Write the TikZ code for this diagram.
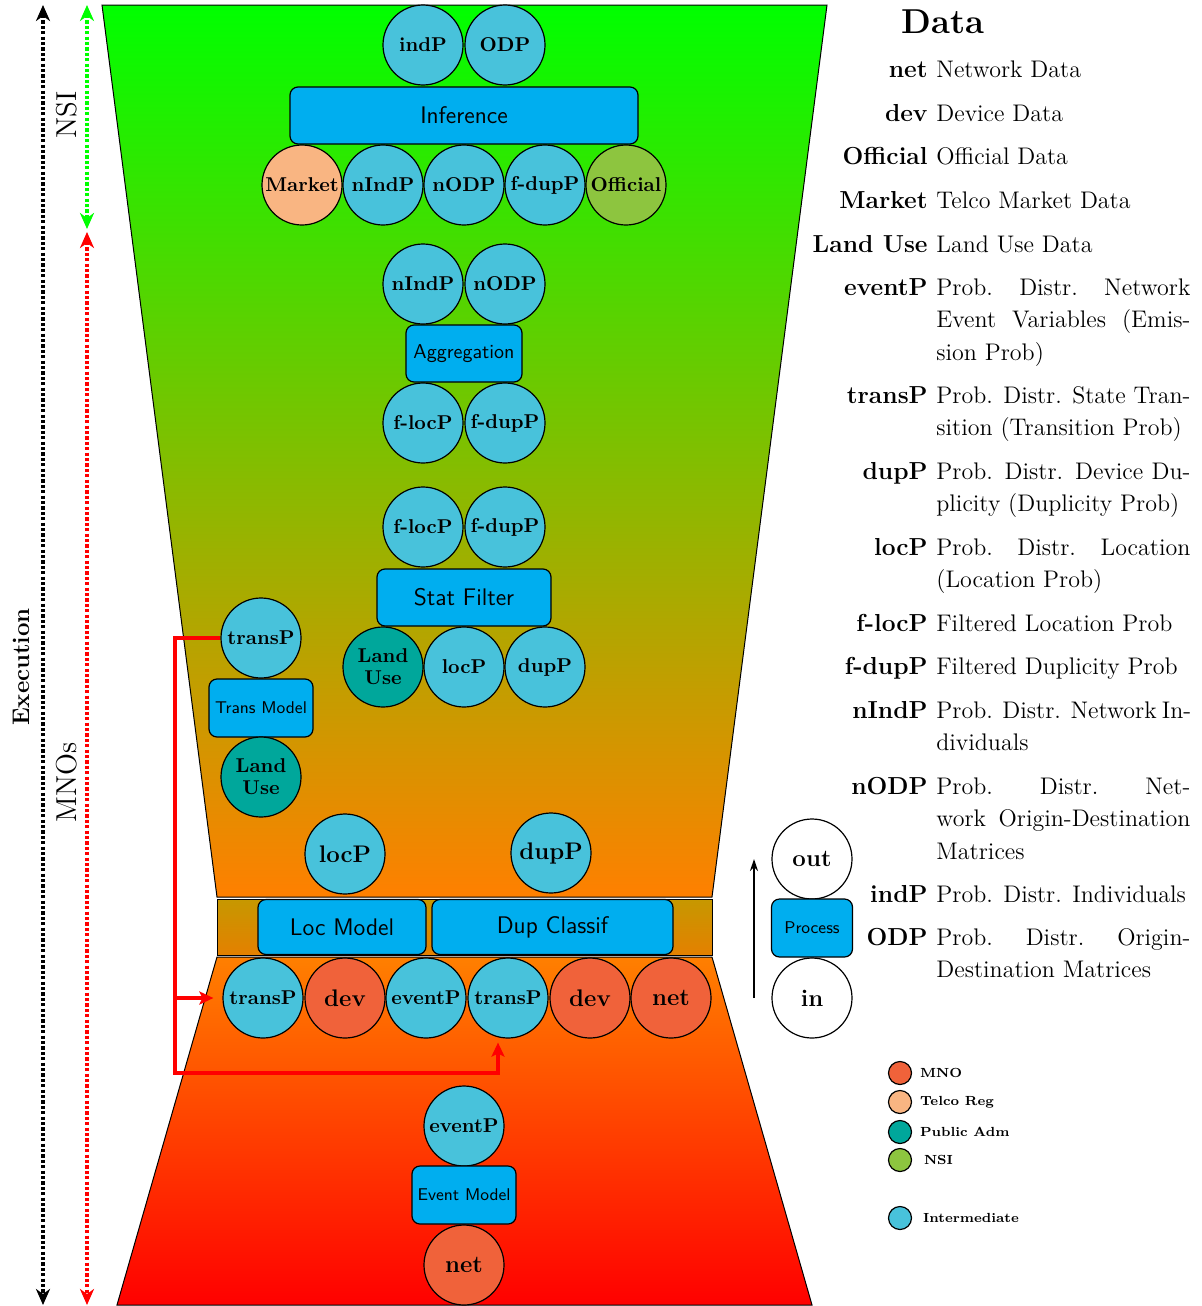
\documentclass[tikz,border=0pt]{standalone}
\usepackage{fontspec}
\usetikzlibrary{arrows.meta}

\definecolor{interc}{RGB}{72,194,219}
\definecolor{mnoc}{RGB}{240,98,58}
\definecolor{telcoc}{RGB}{249,181,130}
\definecolor{pubc}{RGB}{0,167,155}
\definecolor{nsic}{RGB}{141,197,63}
\definecolor{boxc}{RGB}{0,174,239}
\definecolor{bandtop}{RGB}{198,152,0}
\definecolor{bandbot}{RGB}{228,128,0}

\newcommand{\jline}[1]{\makebox[127pt][s]{#1}}

\tikzset{
  blob/.style={circle, draw, line width=0.6pt, minimum size=40pt, inner sep=0pt,
    align=center, font=\fontsize{10}{11}\selectfont\bfseries},
  inter/.style={blob, fill=interc},
  mno/.style={blob, fill=mnoc},
  telco/.style={blob, fill=telcoc},
  pub/.style={blob, fill=pubc},
  nsi/.style={blob, fill=nsic},
  plain/.style={blob, fill=white},
  bigl/.style={font=\fontsize{12}{13}\selectfont\bfseries},
  proc/.style={draw, line width=0.6pt, rounded corners=4pt, fill=boxc, inner sep=0pt,
    minimum height=28.5pt, font=\sffamily\fontsize{12}{14}\selectfont},
  sproc/.style={proc, font=\sffamily\fontsize{8.5}{10}\selectfont},
  mproc/.style={proc, font=\sffamily\fontsize{10}{12}\selectfont},
  dotline/.style={line width=2pt, dash pattern=on 1.6pt off 1.1pt,
    {Stealth[length=8pt,width=7pt,inset=2.5pt]}-{Stealth[length=8pt,width=7pt,inset=2.5pt]}},
  redwire/.style={red, line width=1.8pt, -{Stealth[length=7pt,width=6.5pt,inset=1.5pt]}},
  key/.style={anchor=base east, inner sep=0pt, font=\fontsize{12.3}{16.25}\selectfont\bfseries},
  desc/.style={anchor=base west, inner sep=0pt, text width=127pt, align=justify,
    font=\fontsize{12}{16.25}\selectfont},
  legc/.style={circle, draw, line width=0.6pt, minimum size=11.5pt, inner sep=0pt},
  legl/.style={anchor=west, inner sep=0pt, font=\fontsize{6.6}{8}\selectfont\bfseries},
}

\begin{document}
\begin{tikzpicture}[x=0.5pt,y=-0.5pt]
\useasboundingbox (0,0) rectangle (1202,1306);

% funnel: upper part, middle band, lower part
\path[draw, line width=0.5pt, top color=green, bottom color=orange]
  (102,5) -- (827,5) -- (712,897) -- (217,897) -- cycle;
\path[draw, line width=0.5pt, top color=bandtop, bottom color=bandbot]
  (217,899) rectangle (712,955);
\path[draw, line width=0.5pt, top color=orange, bottom color=red]
  (217,957) -- (712,957) -- (812,1305) -- (117,1305) -- cycle;

% execution scopes on the left
\coordinate (exTop) at (43,5);
\coordinate (exBot) at (43,1305);
\coordinate (nsiTop) at (87,5);
\coordinate (nsiBot) at (87,229);
\coordinate (mnoTop) at (87,232);
\coordinate (mnoBot) at (87,1305);
\draw[dotline, black] (exTop) -- (exBot);
\draw[dotline, green] (nsiTop) -- (nsiBot);
\draw[dotline, red] (mnoTop) -- (mnoBot);
\node[rotate=90, font=\fontsize{12}{14}\selectfont\bfseries] (lblExec) at (21,667) {Execution};
\node[rotate=90, font=\fontsize{14.4}{16}\selectfont] (lblNsi) at (67,115) {NSI};
\node[rotate=90, font=\fontsize{14.4}{16}\selectfont] (lblMno) at (67,782) {MNOs};

% inference stage
\node[inter] (indP) at (423,45) {indP};
\node[inter] (odP) at (505,45) {ODP};
\node[proc, minimum width=174pt] (inference) at (464,115.5) {Inference};
\node[telco] (market) at (302,185) {Market};
\node[inter] (nindA) at (383,185) {nIndP};
\node[inter] (nodA) at (464,185) {nODP};
\node[inter] (fdupA) at (545,185) {f-dupP};
\node[nsi] (official) at (626,185) {Official};

% aggregation stage
\node[inter] (nindB) at (423,284) {nIndP};
\node[inter] (nodB) at (505,284) {nODP};
\node[mproc, minimum width=58pt] (aggregation) at (464,353.5) {Aggregation};
\node[inter] (flocA) at (423,423) {f-locP};
\node[inter] (fdupB) at (505,423) {f-dupP};

% statistical filter stage
\node[inter] (flocB) at (423,527) {f-locP};
\node[inter] (fdupC) at (505,527) {f-dupP};
\node[proc, minimum width=87pt] (statfilter) at (464,597.5) {Stat Filter};
\node[pub] (landA) at (383,667) {Land\\Use};
\node[inter] (locA) at (464,667) {locP};
\node[inter] (dupA) at (545,667) {dupP};

% transition model
\node[inter] (transTop) at (261,638) {transP};
\node[sproc, minimum width=52pt, minimum height=29pt] (transmodel) at (261,708) {Trans Model};
\node[pub] (landB) at (261,777) {Land\\Use};

% location / duplicity models
\node[inter, bigl] (locB) at (345,854) {locP};
\node[inter, bigl] (dupB) at (551,853) {dupP};
\node[proc, minimum width=84pt, minimum height=27.5pt] (locmodel) at (342,927) {Loc Model};
\node[proc, minimum width=120.5pt, minimum height=27.5pt] (dupclassif) at (552.5,927) {Dup Classif};
\node[inter] (transLow) at (263,998) {transP};
\node[mno, bigl] (devA) at (345,998) {dev};
\node[inter] (eventA) at (426,998) {eventP};
\node[inter] (transMid) at (508,998) {transP};
\node[mno, bigl] (devB) at (590,998) {dev};
\node[mno, bigl] (netA) at (671,998) {net};

% event model
\node[inter] (eventB) at (464,1126) {eventP};
\node[sproc, minimum width=52pt, minimum height=29pt] (eventmodel) at (464,1195) {Event Model};
\node[mno, bigl] (netB) at (464,1265) {net};

% transition probabilities fed back into the models
\coordinate (rk) at (175,1073);
\draw[redwire, shorten >=2pt] (transTop.west) -| (rk) -| ([xshift=-5pt]transMid.south);
\draw[redwire, shorten >=4.5pt] (transTop.west -| rk) |- (transLow.west);

% key to the boxes
\node[plain, bigl] (outC) at (812,859) {out};
\node[sproc, minimum width=40.5pt, minimum height=29pt] (procbox) at (812,928) {Process};
\node[plain, bigl] (inC) at (812,998) {in};
\draw[line width=1pt, -{Stealth[length=6pt,width=4pt]}]
  ([xshift=-29pt]inC.center) -- ([xshift=-29pt]outC.center);

% data glossary
\node[font=\fontsize{17.28}{20}\selectfont\bfseries] (dataTitle) at (943,22) {Data};
\node[key] (kNet) at (928,77) {net};
\node[desc] (dNet) at (936,77) {Network Data};
\node[key] (kDev) at (928,121) {dev};
\node[desc] (dDev) at (936,121) {Device Data};
\node[key] (kOff) at (928,164) {Official};
\node[desc] (dOff) at (936,164) {Official Data};
\node[key] (kMkt) at (928,208) {Market};
\node[desc] (dMkt) at (936,208) {Telco Market Data};
\node[key] (kLand) at (928,252) {Land Use};
\node[desc] (dLand) at (936,252) {Land Use Data};
\node[key] (kEvent) at (928,295) {eventP};
\node[desc] (dEvent) at (936,295) {\jline{Prob. Distr. Network}\\\jline{Event Variables (Emis-}\\sion Prob)};
\node[key] (kTrans) at (928,403) {transP};
\node[desc] (dTrans) at (936,403) {\jline{Prob. Distr. State Tran-}\\sition (Transition Prob)};
\node[key] (kDup) at (928,479) {dupP};
\node[desc] (dDup) at (936,479) {\jline{Prob. Distr. Device Du-}\\plicity (Duplicity Prob)};
\node[key] (kLoc) at (928,555) {locP};
\node[desc] (dLoc) at (936,555) {\jline{Prob. Distr. Location}\\(Location Prob)};
\node[key] (kFloc) at (928,631) {f-locP};
\node[desc] (dFloc) at (936,631) {Filtered Location Prob};
\node[key] (kFdup) at (928,674) {f-dupP};
\node[desc] (dFdup) at (936,674) {Filtered Duplicity Prob};
\node[key] (kNind) at (928,718) {nIndP};
\node[desc] (dNind) at (936,718) {\jline{Prob. Distr. Network In-}\\dividuals};
\node[key] (kNod) at (928,794) {nODP};
\node[desc] (dNod) at (936,794) {\jline{Prob. Distr. Net-}\\\jline{work Origin-Destination}\\Matrices};
\node[key] (kInd) at (928,902) {indP};
\node[desc] (dInd) at (936,902) {Prob. Distr. Individuals};
\node[key] (kOd) at (928,945) {ODP};
\node[desc] (dOd) at (936,945) {\jline{Prob. Distr. Origin-}\\Destination Matrices};

% legend of data owners
\node[legc, fill=mnoc] (lgMno) at (900,1073) {};
\node[legl] (ltMno) at ([xshift=3.75pt]lgMno.east) {MNO};
\node[legc, fill=telcoc] (lgTel) at (900,1102) {};
\node[legl] (ltTel) at ([xshift=3.75pt]lgTel.east) {Telco Reg};
\node[legc, fill=pubc] (lgPub) at (900,1132) {};
\node[legl] (ltPub) at ([xshift=3.75pt]lgPub.east) {Public Adm};
\node[legc, fill=nsic] (lgNsi) at (900,1160) {};
\node[legl] (ltNsi) at ([xshift=5.75pt]lgNsi.east) {NSI};
\node[legc, fill=interc] (lgInt) at (900,1218) {};
\node[legl] (ltInt) at ([xshift=5.25pt]lgInt.east) {Intermediate};
\end{tikzpicture}
\end{document}
